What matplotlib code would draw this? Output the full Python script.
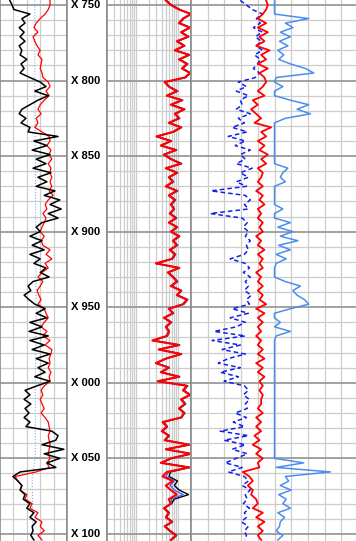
import numpy as np
import matplotlib.pyplot as plt

# sampling depths of the log curves (every 3 units)
depth = np.arange(747, 1105, 3)

# track 1: gamma ray (black), second curve (red), bit size (dotted)
gr = [22, 27, 31, 67, 49, 56, 43, 54, 45, 56, 43, 49, 45, 60, 47, 54, 45, 67, 90, 103,
      78, 108, 85, 67, 49, 43, 58, 47, 67, 63, 130, 76, 105, 72, 112, 81, 103, 74, 114, 85,
      105, 81, 123, 99, 134, 112, 137, 108, 130, 94, 81, 90, 67, 94, 72, 99, 67, 90, 76, 103,
      90, 110, 74, 63, 69, 54, 65, 78, 101, 81, 105, 67, 94, 65, 108, 67, 99, 72, 112, 81,
      108, 85, 101, 78, 112, 83, 56, 67, 54, 69, 56, 65, 54, 67, 58, 116, 130, 125, 94, 143,
      99, 134, 105, 125, 45, 29, 40, 49, 45, 56, 52, 67, 60, 76, 67, 81, 72, 74, 69, 76]
sp = [112, 112, 108, 101, 90, 81, 76, 85, 74, 78, 83, 90, 85, 94, 92, 90, 94, 96, 108, 112,
      103, 110, 99, 90, 85, 92, 81, 85, 78, 94, 110, 112, 105, 114, 110, 116, 108, 114, 112, 116,
      112, 116, 110, 119, 108, 101, 105, 96, 103, 99, 94, 90, 99, 92, 96, 112, 103, 116, 101, 108,
      94, 85, 96, 90, 83, 87, 92, 85, 99, 103, 108, 99, 92, 105, 96, 112, 101, 116, 114, 110,
      112, 108, 114, 110, 112, 99, 92, 96, 90, 94, 99, 92, 101, 108, 110, 112, 108, 110, 112, 110,
      108, 112, 105, 110, 81, 34, 40, 49, 45, 60, 56, 72, 67, 85, 78, 94, 90, 99, 85, 94]
bs_depth = [747, 800, 850, 900, 950, 1000, 1050, 1062, 1080, 1104]
bs = [78, 78, 79, 80, 81, 79, 79, 72, 73, 72]

# track 2: resistivities (log scale)
res_shallow = [5.0, 6.6, 10.3, 20, 12.8, 10.3, 18.9, 11.5, 16.9, 9.2,
               13.6, 8.2, 17.9, 10.3, 16.0, 12.1, 18.9, 14.3, 4.7, 5.9,
               9.2, 5.3, 12.1, 6.6, 13.6, 8.2, 10.3, 5.9, 11.5, 7.4,
               3.0, 6.6, 3.8, 8.7, 4.5, 6.6, 11.5, 5.0, 9.2, 5.9,
               7.4, 5.0, 9.2, 5.9, 8.2, 6.6, 7.8, 6.2, 8.7, 5.9,
               9.2, 6.6, 10.3, 7.4, 9.2, 6.2, 8.2, 7.0, 2.9, 10.3,
               5.6, 7.4, 9.2, 6.6, 11.5, 9.2, 16.0, 12.8, 5.9, 7.4,
               4.5, 6.6, 5.0, 5.9, 5.3, 2.4, 10.3, 3.4, 11.5, 5.0,
               2.9, 5.9, 3.8, 10.3, 3.2, 16.0, 12.8, 18.9, 11.5, 14.3,
               10.3, 13.6, 11.5, 4.2, 5.3, 4.0, 5.9, 4.7, 17.9, 5.0,
               20, 6.6, 3.8, 17.9, 5.3, 4.2, 7.4, 5.0, 6.6, 9.2,
               5.9, 6.6, 4.5, 5.9, 5.0, 7.0, 4.7, 6.2, 8.7, 6.6]
res_medium = [5.1, 6.8, 10.6, 20, 13.2, 10.6, 19.3, 11.8, 17.3, 9.4,
              14.0, 8.4, 18.4, 10.6, 16.4, 12.4, 19.3, 14.7, 4.8, 6.0,
              9.4, 5.4, 12.4, 6.8, 14.0, 8.4, 10.6, 6.0, 11.8, 7.6,
              3.1, 6.8, 3.9, 8.9, 4.6, 6.8, 11.8, 5.1, 9.4, 6.0,
              7.6, 5.1, 9.4, 6.0, 8.4, 6.8, 8.0, 6.4, 8.9, 6.0,
              9.4, 6.8, 10.6, 7.6, 9.4, 6.4, 8.4, 7.2, 3.0, 10.6,
              5.7, 7.6, 9.4, 6.8, 11.8, 9.4, 16.4, 13.2, 6.0, 7.6,
              4.6, 6.8, 5.1, 6.0, 5.4, 2.5, 10.6, 3.5, 11.8, 5.1,
              3.0, 6.0, 3.9, 10.6, 3.3, 16.4, 13.2, 19.3, 11.8, 14.7,
              10.6, 14.0, 11.8, 4.3, 5.4, 4.1, 6.0, 4.8, 18.4, 5.1,
              20, 6.8, 3.9, 18.4, 5.9, 5.0, 8.0, 6.4, 8.0, 13.0,
              6.8, 6.8, 4.6, 6.0, 5.1, 7.2, 4.8, 6.4, 8.9, 6.8]
res_deep = [5.2, 6.9, 10.8, 20, 13.5, 10.8, 19.5, 12.0, 17.8, 9.6,
            14.3, 8.5, 18.8, 10.8, 16.8, 12.7, 19.6, 15.0, 4.9, 6.1,
            9.7, 5.5, 12.7, 6.9, 14.3, 8.6, 10.8, 6.1, 12.0, 7.7,
            3.1, 6.9, 3.9, 9.1, 4.7, 6.9, 12.0, 5.2, 9.6, 6.1,
            7.7, 5.2, 9.6, 6.1, 8.6, 6.9, 8.1, 6.5, 9.1, 6.1,
            9.6, 6.9, 10.8, 7.7, 9.6, 6.5, 8.6, 7.3, 3.0, 10.8,
            5.8, 7.7, 9.6, 6.9, 12.0, 9.6, 16.8, 13.5, 6.1, 7.7,
            4.7, 6.9, 5.2, 6.1, 5.5, 2.5, 10.8, 3.5, 12.0, 5.2,
            3.0, 6.1, 3.9, 10.8, 3.3, 16.8, 13.5, 19.6, 12.0, 15.0,
            10.8, 14.3, 12.0, 4.4, 5.5, 4.2, 6.1, 4.9, 18.8, 5.2,
            20, 6.9, 4.0, 18.8, 6.5, 6.0, 9.5, 8.0, 10.5, 17.5,
            8.0, 6.9, 4.7, 6.1, 5.2, 7.3, 4.9, 6.5, 9.1, 6.9]

# track 3: neutron (p.u.), density (g/cc), spiky curve
nphi = [27.3, 25.1, 23.0, 19.3, 21.5, 20.1, 22.6, 19.3, 21.9, 19.7,
        21.5, 19.3, 22.2, 20.1, 21.1, 22.6, 20.4, 21.9, 28.0, 25.1,
        28.7, 24.4, 27.3, 26.6, 28.7, 23.7, 28.0, 25.8, 30.2, 24.8,
        31.6, 25.5, 29.1, 23.7, 27.3, 25.5, 28.7, 23.0, 27.3, 24.4,
        28.7, 25.1, 37.8, 25.5, 23.7, 25.8, 24.4, 38.1, 26.6, 24.8,
        26.2, 24.4, 25.5, 23.7, 25.1, 24.4, 25.8, 30.9, 25.5, 24.0,
        26.2, 23.7, 25.5, 24.4, 25.8, 23.3, 25.1, 24.0, 30.2, 24.4,
        30.9, 25.5, 28.7, 36.7, 25.5, 37.4, 27.3, 33.8, 25.5, 31.6,
        35.2, 27.3, 34.5, 28.0, 33.1, 25.8, 24.4, 26.2, 24.0, 25.5,
        24.8, 29.1, 25.1, 29.8, 25.8, 34.5, 24.4, 33.1, 25.5, 30.2,
        24.8, 28.7, 32.7, 26.6, 31.6, 25.8, 24.4, 26.6, 23.7, 25.5,
        24.8, 26.2, 24.0, 25.8, 25.1, 26.9, 24.4, 25.8, 25.1, 25.5]
rhob = [2.40, 2.41, 2.40, 2.38, 2.35, 2.40, 2.35, 2.41, 2.36, 2.39,
        2.34, 2.42, 2.37, 2.40, 2.35, 2.41, 2.36, 2.39, 2.40, 2.38,
        2.35, 2.39, 2.32, 2.35, 2.31, 2.34, 2.37, 2.33, 2.43, 2.37,
        2.40, 2.35, 2.39, 2.36, 2.41, 2.37, 2.40, 2.35, 2.38, 2.37,
        2.35, 2.38, 2.34, 2.38, 2.36, 2.39, 2.35, 2.37, 2.35, 2.38,
        2.36, 2.38, 2.34, 2.37, 2.35, 2.39, 2.35, 2.38, 2.36, 2.38,
        2.34, 2.37, 2.35, 2.38, 2.35, 2.38, 2.36, 2.40, 2.34, 2.39,
        2.35, 2.38, 2.35, 2.37, 2.34, 2.37, 2.35, 2.38, 2.35, 2.39,
        2.34, 2.38, 2.35, 2.39, 2.36, 2.38, 2.36, 2.38, 2.37, 2.37,
        2.35, 2.38, 2.34, 2.37, 2.34, 2.37, 2.33, 2.36, 2.32, 2.37,
        2.34, 2.38, 2.35, 2.36, 2.26, 2.30, 2.32, 2.29, 2.32, 2.31,
        2.34, 2.35, 2.32, 2.38, 2.34, 2.39, 2.35, 2.38, 2.35, 2.37]
pe = [0.0, 0.0, 0.0, 0.0, 4.1, 1.3, 2.2, 0.7, 1.9, 0.6,
      1.6, 0.4, 1.1, 0.5, 1.9, 3.7, 4.7, 0.2, 0.0, 1.0,
      0.0, 0.0, 1.9, 4.1, 2.7, 4.3, 1.3, 0.0, 0.0, 0.0,
      0.0, 0.0, 0.0, 0.0, 0.0, 0.0, 0.0, 1.6, 1.0, 0.7,
      1.3, 0.0, 0.0, 0.0, 0.0, 0.0, 1.0, 0.0, 0.0, 1.9,
      0.4, 2.2, 0.7, 2.8, 0.5, 1.9, 0.2, 1.4, 0.2, 0.0,
      0.0, 0.0, 1.3, 3.1, 2.2, 2.7, 3.6, 4.1, 1.9, 0.0,
      0.0, 0.7, 0.0, 1.9, 0.2, 0.0, 0.0, 0.0, 0.0, 0.0,
      0.0, 0.0, 0.0, 0.0, 0.0, 0.0, 0.0, 0.0, 0.0, 0.0,
      0.0, 0.0, 0.0, 0.0, 0.0, 0.0, 0.0, 0.0, 0.0, 0.0,
      0.0, 0.0, 3.5, 0.2, 6.7, 1.3, 1.7, 0.7, 2.0, 0.5,
      1.4, 1.0, 1.9, 0.4, 1.2, 0.7, 0.6, 0.2, 1.0, 0.4]

depth_labels = [750, 800, 850, 900, 950, 1000, 1050, 1100]
label_text = ['X 750', 'X 800', 'X 850', 'X 900', 'X 950', 'X 000', 'X 050', 'X 100']

top, bottom = 746.7, 1104.7
W, H = 356, 541

fig = plt.figure(figsize=(W / 100, H / 100), dpi=100)
ax1 = fig.add_axes([0, 0, 67 / W, 1])
axd = fig.add_axes([67 / W, 0, 40 / W, 1])
ax2 = fig.add_axes([107 / W, 0, 84 / W, 1])
ax3 = fig.add_axes([191 / W, 0, 167 / W, 1])

major_c, minor_c, border_c = '#9a9a9a', '#cccccc', '#8c8c8c'


def style_track(ax):
    ax.set_ylim(bottom, top)
    ax.set_yticks(range(750, 1101, 50))
    ax.set_yticks(range(750, 1101, 10), minor=True)
    ax.grid(axis='y', which='minor', color=minor_c, lw=0.9)
    ax.grid(axis='y', which='major', color=major_c, lw=1.3)
    ax.grid(axis='x', which='both', color=minor_c, lw=0.9)
    ax.tick_params(which='both', length=0, labelleft=False, labelbottom=False)
    ax.set_axisbelow(True)
    for s in ['top', 'bottom']:
        ax.spines[s].set_visible(False)
    for s in ['left', 'right']:
        ax.spines[s].set_color(border_c)
        ax.spines[s].set_linewidth(1.2)


# track 1
style_track(ax1)
ax1.set_xlim(0, 150)
ax1.set_xticks([30, 60, 90, 120])
ax1.plot(bs, bs_depth, color='#7fb0ea', lw=0.8, ls=':')
ax1.plot(sp, depth, color='#ff0000', lw=0.9)
ax1.plot(gr, depth, color='black', lw=1.1)

# depth track
axd.set_ylim(bottom, top)
axd.set_xlim(0, 1)
axd.set_xticks([])
axd.set_yticks([])
for s in ['top', 'bottom']:
    axd.spines[s].set_visible(False)
for s in ['left', 'right']:
    axd.spines[s].set_color(border_c)
    axd.spines[s].set_linewidth(1.2)
for d, t in zip(depth_labels, label_text):
    axd.text(0.46, d, t, ha='center', va='center', fontsize=8,
             fontweight='bold', family='Liberation Sans')

# track 2 (log)
style_track(ax2)
ax2.set_xscale('log')
ax2.set_xlim(0.2, 20)
ax2.set_xticks([1, 10])
ax2.set_xticks([0.3, 0.4, 0.5, 0.6, 0.7, 0.8, 0.9, 2, 3, 4, 5, 6, 7, 8, 9], minor=True)
ax2.tick_params(which='both', length=0, labelleft=False, labelbottom=False)
ax2.plot(res_deep, depth, color='black', lw=1.0)
ax2.plot(res_medium, depth, color='#4060ff', lw=1.0)
ax2.plot(res_shallow, depth, color='#ff0000', lw=1.5)

# track 3
style_track(ax3)
ax3.set_xlim(0, 10)
ax3.set_xticks(range(1, 10))

ax3n = ax3.twiny()
ax3n.set_xlim(45, -15)
ax3d = ax3.twiny()
ax3d.set_xlim(1.95, 2.95)
ax3p = ax3.twiny()
ax3p.set_xlim(-10, 10)
for a in (ax3n, ax3d, ax3p):
    a.set_ylim(bottom, top)
    a.set_xticks([])
    a.axis('off')

ax3p.plot(pe, depth, color='#4a8ef0', lw=1.1)
ax3n.plot(nphi, depth, color='#1020ee', lw=1.1, ls=(0, (3, 2)))
ax3d.plot(rhob, depth, color='#ff0000', lw=1.3)

fig.savefig('out.png', dpi=100)
